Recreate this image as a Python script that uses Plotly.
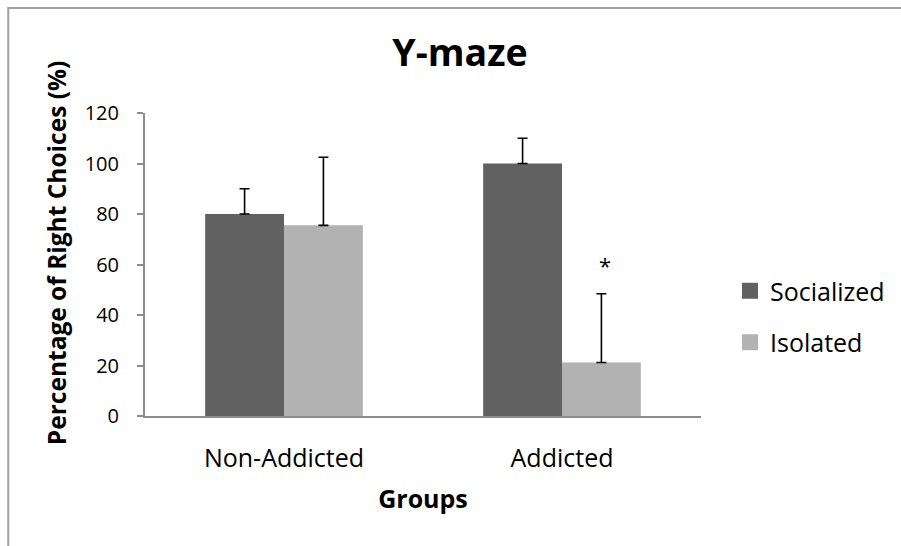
import plotly.graph_objects as go

categories = ["Non-Addicted", "Addicted"]
socialized = [80, 100]
socialized_err = [10, 10]
isolated = [75.5, 21.2]
isolated_err = [27, 27.2]
y_ticks = [0, 20, 40, 60, 80, 100, 120]

FONT = "Open Sans"
C_SOC = "#616161"
C_ISO = "#B2B2B2"

fig = go.Figure()
fig.add_trace(go.Bar(
    x=categories, y=socialized, name="Socialized", marker_color=C_SOC,
    marker_line_width=0, showlegend=False,
    error_y=dict(type="data", array=socialized_err, arrayminus=[0, 0], symmetric=False,
                 color="black", thickness=1.6, width=5),
))
fig.add_trace(go.Bar(
    x=categories, y=isolated, name="Isolated", marker_color=C_ISO,
    marker_line_width=0, showlegend=False,
    error_y=dict(type="data", array=isolated_err, arrayminus=[0, 0], symmetric=False,
                 color="black", thickness=1.6, width=5),
))
# legend entries
for name, col in [("Socialized", C_SOC), ("Isolated", C_ISO)]:
    fig.add_trace(go.Scatter(
        x=[None], y=[None], mode="markers", name=name, legendgroup=name,
        marker=dict(symbol="square", size=17, color=col),
    ))

fig.add_annotation(x="Addicted", y=60, text="*", showarrow=False, xshift=43,
                   font=dict(family=FONT, size=22, color="black"))

# y-axis title (placed as in the reference)
fig.add_annotation(xref="paper", yref="paper", x=(56 - 145) / 557, y=(416 - 253) / 303,
                   text="<b>Percentage of Right Choices (%)</b>", textangle=-90,
                   showarrow=False, xanchor="center", yanchor="middle",
                   font=dict(family=FONT, size=24.5, color="black"))

# outer frame
fig.add_shape(type="rect", xref="paper", yref="paper",
              x0=(8 - 145) / 557, x1=(910 - 145) / 557,
              y0=(416 - 560) / 303, y1=(416 - 8) / 303,
              line=dict(color="#A0A0A0", width=2), layer="below")

fig.update_layout(
    width=901, height=546,
    margin=dict(l=145, r=199, t=113, b=130),
    paper_bgcolor="white", plot_bgcolor="white",
    barmode="group", bargap=0.433, bargroupgap=0,
    font=dict(family=FONT, color="black"),
    title=dict(text="<b>Y-maze</b>", x=460 / 901, xanchor="center", y=1 - 53 / 546, yanchor="middle",
               font=dict(family=FONT, size=37.5, color="black")),
    showlegend=True,
    legend=dict(x=(730 - 145) / 557, y=(416 - 268) / 303, xanchor="left", yanchor="top",
                font=dict(family=FONT, size=25, color="black"),
                tracegroupgap=16, traceorder="grouped",
                bgcolor="rgba(0,0,0,0)", itemwidth=30),
    xaxis=dict(showline=True, linecolor="#8C8C8C", linewidth=2, ticks="",
               tickfont=dict(family=FONT, size=25, color="black"),
               ticklabelstandoff=19, showgrid=False, zeroline=False,
               title=dict(text="<b>Groups</b>", font=dict(family=FONT, size=25, color="black"), standoff=17)),
    yaxis=dict(range=[0, 120], tickvals=y_ticks, showline=True, linecolor="#8C8C8C", linewidth=2,
               ticks="outside", ticklen=6, tickcolor="#8C8C8C", tickwidth=2,
               tickfont=dict(family=FONT, size=20, color="black"),
               ticklabelstandoff=14, showgrid=False, zeroline=False),
)
fig.update_xaxes(automargin=False)
fig.update_yaxes(automargin=False)

fig.write_html("out.html", config={"displayModeBar": False},
               post_script="document.body.style.margin='0';")
